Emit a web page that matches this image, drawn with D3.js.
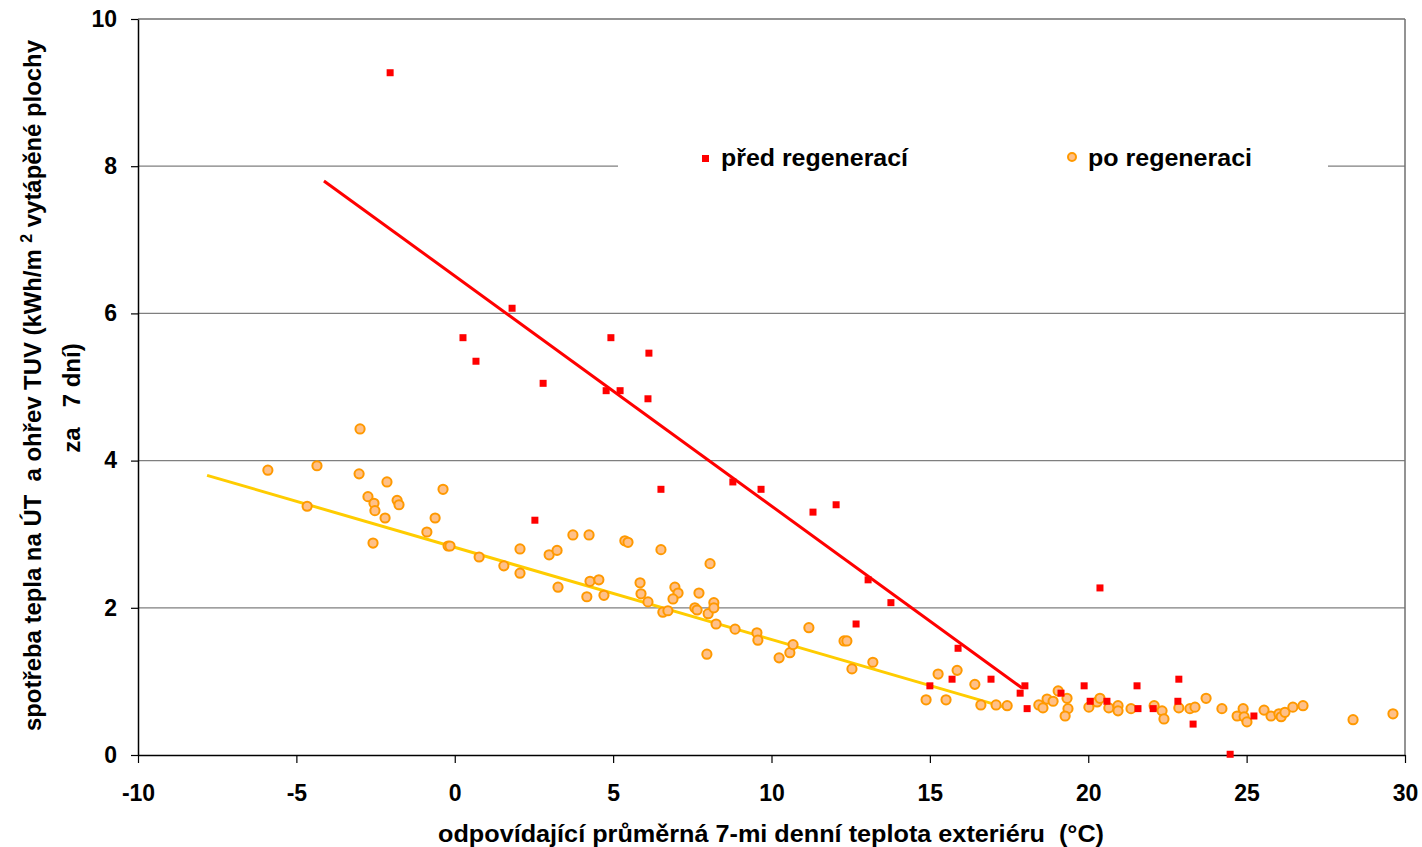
<!DOCTYPE html>
<html><head><meta charset="utf-8">
<script src="https://cdn.jsdelivr.net/npm/d3@7"></script>
<style>body{margin:0;background:#fff}svg{display:block}text{font-family:"Liberation Sans",Arial,sans-serif;font-weight:bold;white-space:pre}</style>
</head><body><svg id="c" width="1422" height="847"></svg>
<script>
const xTicks=[-10,-5,0,5,10,15,20,25,30];
const yTicks=[0,2,4,6,8,10];
const seriesNames=["před regenerací","po regeneraci"];
// před regenerací
const beforeX=[-2.04,0.26,0.67,1.81,2.79,4.93,4.78,5.22,6.13,6.10,2.53,6.51,8.78,9.67,11.31,12.04,13.05,13.77,12.67,15.89,15.0,15.70,16.93,17.85,18.0,18.07,19.14,19.87,20.06,20.59,20.37,21.54,21.57,22.05,22.86,22.83,23.31,24.48,25.23];
const beforeY=[9.27,5.67,5.35,6.07,5.05,5.67,4.95,4.95,5.46,4.84,3.19,3.61,3.71,3.61,3.30,3.40,2.38,2.07,1.78,1.45,0.94,1.03,1.03,0.84,0.94,0.63,0.84,0.94,0.73,0.73,2.27,0.94,0.63,0.63,1.03,0.73,0.42,0.01,0.53];
// po regeneraci
const afterX=[-5.90,-4.66,-4.35,-2.99,-3.02,-2.14,-2.74,-2.55,-2.52,-2.20,-1.82,-1.76,-2.58,-0.88,-0.62,-0.37,-0.21,-0.15,0.77,1.55,2.06,2.06,2.98,3.23,3.26,3.73,4.24,4.17,4.27,4.55,4.71,5.37,5.47,6.51,5.85,5.88,6.10,6.57,6.73,6.95,7.05,6.89,7.71,8.06,7.58,7.65,8.0,8.18,8.18,8.25,7.96,8.85,9.54,9.57,10.24,10.58,10.68,11.18,12.29,12.38,12.54,13.20,14.88,15.26,15.51,15.86,16.42,16.61,17.09,17.44,18.44,18.57,18.70,18.89,19.05,19.33,19.36,19.27,20.02,20.28,20.37,20.65,20.94,20.94,21.35,22.08,22.33,22.39,22.86,23.21,23.37,23.72,24.22,24.70,24.89,24.92,25.01,25.55,25.77,26.02,26.09,26.21,26.46,26.78,28.36,29.62];
const afterY=[3.87,3.38,3.93,4.43,3.82,3.71,3.51,3.42,3.32,3.22,3.46,3.40,2.88,3.03,3.22,3.61,2.84,2.84,2.69,2.57,2.80,2.47,2.72,2.78,2.28,2.99,2.99,2.15,2.36,2.38,2.17,2.91,2.89,2.79,2.34,2.19,2.08,1.94,1.96,2.28,2.20,2.12,2.20,2.60,2.00,1.97,1.92,2.07,2.00,1.78,1.37,1.71,1.66,1.56,1.32,1.39,1.50,1.73,1.55,1.55,1.17,1.26,0.75,1.10,0.75,1.15,0.96,0.68,0.68,0.67,0.68,0.64,0.76,0.73,0.87,0.77,0.63,0.53,0.65,0.72,0.77,0.64,0.67,0.60,0.63,0.67,0.60,0.49,0.64,0.63,0.65,0.77,0.63,0.53,0.63,0.52,0.45,0.61,0.53,0.56,0.52,0.58,0.65,0.67,0.48,0.56];
// trend lines (endpoints)
const beforeTrendX=[-4.13,17.91], beforeTrendY=[7.80,0.91];
const afterTrendX=[-7.82,17.43], afterTrendY=[3.80,0.64];

const svg=d3.select("#c");
const L=138,R=1405,T=19,B=755;
const x=d3.scaleLinear().domain([-10,30]).range([L,R]);
const y=d3.scaleLinear().domain([0,10]).range([B,T]);

// grid
svg.append("g").selectAll("line").data(yTicks.filter(d=>d>0&&d<10)).join("line")
 .attr("x1",L).attr("x2",R).attr("y1",d=>y(d)).attr("y2",d=>y(d))
 .attr("stroke","#7f7f7f").attr("stroke-width",1.3);
// border top/right
svg.append("line").attr("x1",L).attr("x2",R).attr("y1",T).attr("y2",T).attr("stroke","#6f6f6f").attr("stroke-width",1.5);
svg.append("line").attr("x1",R).attr("x2",R).attr("y1",T).attr("y2",B).attr("stroke","#6f6f6f").attr("stroke-width",1.5);

// axes
const fmt=d=>String(d);
const xa=svg.append("g").attr("transform",`translate(0,${B})`)
 .call(d3.axisBottom(x).tickValues(xTicks).tickFormat(fmt).tickSizeInner(8).tickSizeOuter(0).tickPadding(22));
const ya=svg.append("g").attr("transform",`translate(${L},0)`)
 .call(d3.axisLeft(y).tickValues(yTicks).tickFormat(fmt).tickSizeInner(7).tickSizeOuter(0).tickPadding(14));
[xa,ya].forEach(a=>{a.select(".domain").attr("stroke","#000").attr("stroke-width",1.5);
 a.selectAll(".tick line").attr("stroke","#000").attr("stroke-width",1.2);
 a.selectAll(".tick text").attr("font-size",23).attr("font-weight","bold").attr("fill","#000")
  .attr("font-family","Liberation Sans, Arial, sans-serif");});

// legend box
svg.append("rect").attr("x",618).attr("y",138).attr("width",710).attr("height",42).attr("fill","#fff");

// trend lines
const line=d3.line().x(d=>x(d[0])).y(d=>y(d[1]));
svg.append("path").attr("d",line(d3.zip(afterTrendX,afterTrendY))).attr("stroke","#FFCC00").attr("stroke-width",3).attr("fill","none");
svg.append("path").attr("d",line(d3.zip(beforeTrendX,beforeTrendY))).attr("stroke","#FF0000").attr("stroke-width",3).attr("fill","none");

// points
svg.append("g").selectAll("circle").data(d3.zip(afterX,afterY)).join("circle")
 .attr("cx",d=>x(d[0])).attr("cy",d=>y(d[1])).attr("r",4.6)
 .attr("fill","#FFC088").attr("stroke","#FF9900").attr("stroke-width",2);
svg.append("g").selectAll("rect").data(d3.zip(beforeX,beforeY)).join("rect")
 .attr("x",d=>x(d[0])-3.5).attr("y",d=>y(d[1])-3.5).attr("width",7).attr("height",7).attr("fill","#FF0000");

// legend
svg.append("rect").attr("x",702).attr("y",155).attr("width",7).attr("height",7).attr("fill","#FF0000");
svg.append("text").attr("x",721).attr("y",166).attr("font-size",24).attr("textLength",187).attr("lengthAdjust","spacingAndGlyphs").text(seriesNames[0]);
svg.append("circle").attr("cx",1072).attr("cy",157).attr("r",4).attr("fill","#FFC088").attr("stroke","#FF9900").attr("stroke-width",2);
svg.append("text").attr("x",1088).attr("y",166).attr("font-size",24).attr("textLength",164).attr("lengthAdjust","spacingAndGlyphs").text(seriesNames[1]);

// axis titles
svg.append("text").attr("x",438).attr("y",842).attr("font-size",24).attr("textLength",666).attr("lengthAdjust","spacingAndGlyphs")
 .text("odpovídající průměrná 7-mi denní teplota exteriéru  (°C)");
const yt=svg.append("text").attr("transform","translate(41,731) rotate(-90)").attr("font-size",24)
 .attr("textLength",691).attr("lengthAdjust","spacingAndGlyphs");
yt.append("tspan").text("spotřeba tepla na ÚT  a ohřev TUV (kWh/m ");
yt.append("tspan").attr("dy",-9).attr("font-size",16).text("2");
yt.append("tspan").attr("dy",9).text(" vytápěné plochy");
svg.append("text").attr("transform","translate(80,398) rotate(-90)").attr("text-anchor","middle").attr("font-size",24)
 .text("za   7 dní)");
</script></body></html>
